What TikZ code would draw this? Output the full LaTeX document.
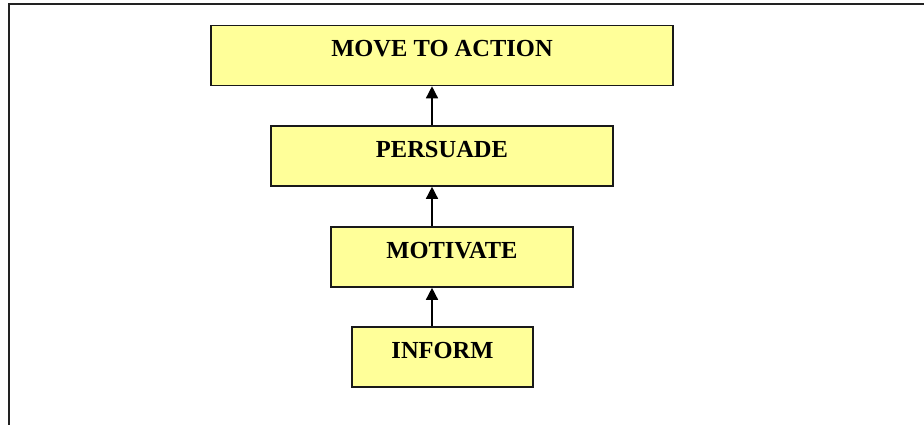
\documentclass[tikz,border=0pt]{standalone}
\usepackage{fontspec}
\setmainfont{Liberation Serif}
\usetikzlibrary{arrows.meta}
\definecolor{boxfill}{HTML}{FFFF99}
\definecolor{framegray}{HTML}{222222}
\tikzset{
  stagebox/.style={draw=black!90, fill=boxfill, line width=1.6pt, rectangle,
    inner sep=0pt, minimum height=60pt,
    font=\fontsize{24.5}{29}\selectfont\bfseries,
    text height=16pt, text depth=13pt},
  uparrow/.style={line width=1.4pt, -{Triangle[length=12pt,width=12pt]}},
  frameline/.style={line width=2pt, draw=framegray}
}
\begin{document}
\begin{tikzpicture}[x=1pt,y=-1pt]
\useasboundingbox (0,0) rectangle (924,425);
\draw[frameline] (9.2,425) -- (9.2,4.3) -- (924,4.3);
\node[stagebox, minimum width=462pt] (move) at (442,55.5) {MOVE TO ACTION};
\node[stagebox, minimum width=342pt] (persuade) at (442,156) {PERSUADE};
\node[stagebox, minimum width=242pt] (motivate) at (452,257) {MOTIVATE};
\node[stagebox, minimum width=181pt] (inform) at (442.5,357) {INFORM};
\coordinate (ax) at (432,0);
\draw[uparrow] (persuade.north -| ax) -- (move.south -| ax);
\draw[uparrow] (motivate.north -| ax) -- (persuade.south -| ax);
\draw[uparrow] (inform.north -| ax) -- (motivate.south -| ax);
\end{tikzpicture}
\end{document}
